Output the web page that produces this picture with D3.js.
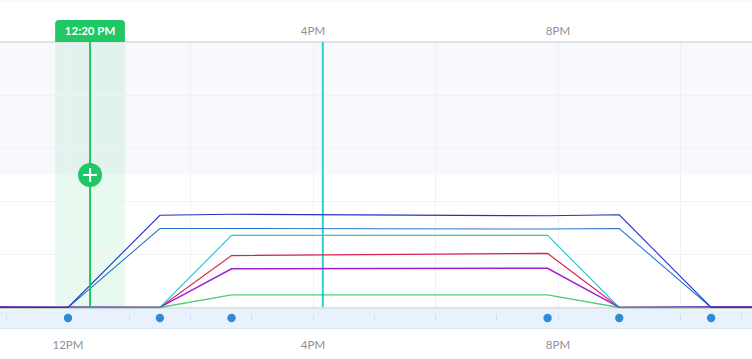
<!DOCTYPE html>
<html><head><meta charset="UTF-8"><style>
html, body { margin: 0; padding: 0; background: #fff; }
svg { display: block; }
text { font-family: Lato, "Open Sans", sans-serif; }
.tick-label { font-size: 11.5px; fill: #8d9198; text-anchor: middle; }
</style></head>
<body>
<svg width="752" height="359"></svg>
<script src="https://cdn.jsdelivr.net/npm/d3@7/dist/d3.min.js"></script>
<script>
// hours since midnight
var pointHours = [12, 13.5, 14.67, 19.83, 21, 22.5];
var lineHours = [10, 12, 13.5, 14.67, 19.83, 21, 22.5, 25];
var gridHours = [12, 14, 16, 18, 20, 22];
var minorHours = [11, 12, 13, 14, 15, 16, 17, 18, 19, 20, 21, 22, 23];
var topLabels = [[16, "4PM"], [20, "8PM"]];
var bottomLabels = [[12, "12PM"], [16, "4PM"], [20, "8PM"]];
var gridValues = [0, 100, 200, 300, 400, 500];

var purple = [1.5, 1, 0.4, 73, 74, 0.4, 1.5, 1.5];
var red = [0, 0, 0, 98, 102, 0, 0, 0];
var cyan = [0, 0, 0, 136, 136, 0, 0, 0];
var green = [0, 0, 0, 24, 24, 0, 0, 0];
var blue = [0, 0, 149, 149, 148, 149, 0, 0];
var navy = [0, 0, 174, 176, 173, 175, 0, 0];

var seriesList = [
  { values: red, color: "#d9204f", width: 1.2, opacity: 1 },
  { values: cyan, color: "#35c3d1", width: 1.2, opacity: 1 },
  { values: purple, color: "#9b1fd6", width: 1.5, opacity: 1 },
  { values: green, color: "#1fbf58", width: 1.3, opacity: 0.8 },
  { values: blue, color: "#2a78cf", width: 1.1, opacity: 1 },
  { values: navy, color: "#2233c4", width: 1.1, opacity: 1 }
];

var cursorHour = 12.36, bandHours = [11.79, 12.93], nowHour = 16.16, zoneTop = 500, zoneBottom = 250;

var svg = d3.select("svg");
var x = d3.scaleLinear().domain([12, 16]).range([68, 313]);
var y = d3.scaleLinear().domain([0, 500]).range([307.5, 42.5]);

// top rule and shaded zone
svg.append("rect").attr("x", 0).attr("y", 0.5).attr("width", 752).attr("height", 1.2).attr("fill", "#f4f4f6");
svg.append("rect").attr("x", 0).attr("width", 752)
  .attr("y", y(zoneTop)).attr("height", y(zoneBottom) - y(zoneTop)).attr("fill", "#f8f9fc");

// highlight band
svg.append("rect").attr("x", x(bandHours[0])).attr("width", x(bandHours[1]) - x(bandHours[0]))
  .attr("y", 42).attr("height", 265).attr("fill", "#1fc765").attr("opacity", 0.1);

// grid
svg.append("g").selectAll("line").data(gridValues.slice(1)).enter().append("line")
  .attr("x1", 0).attr("x2", 752).attr("y1", function(d) { return y(d); }).attr("y2", function(d) { return y(d); })
  .attr("stroke", "#f1f2f6").attr("stroke-width", 1);
svg.append("g").selectAll("line").data(gridHours).enter().append("line")
  .attr("x1", function(d) { return Math.floor(x(d)) + 0.5; }).attr("x2", function(d) { return Math.floor(x(d)) + 0.5; })
  .attr("y1", 42).attr("y2", 307).attr("stroke", "#eff1f5").attr("stroke-width", 1);

// header rule
svg.append("rect").attr("x", 0).attr("y", 41).attr("width", 752).attr("height", 2).attr("fill", "#dfe3ea");

// bottom strip
svg.append("rect").attr("x", 0).attr("y", 307).attr("width", 752).attr("height", 21).attr("fill", "#e8f1fc");
svg.append("rect").attr("x", 0).attr("y", 328).attr("width", 752).attr("height", 1).attr("fill", "#dbe7f5");
svg.append("rect").attr("x", 0).attr("y", 307).attr("width", 752).attr("height", 2).attr("fill", "#dbe2ea");
svg.append("g").selectAll("line").data(minorHours).enter().append("line")
  .attr("x1", function(d) { return Math.floor(x(d)) + 0.5; }).attr("x2", function(d) { return Math.floor(x(d)) + 0.5; })
  .attr("y1", 314).attr("y2", 321).attr("stroke", "#cfe2f3").attr("stroke-width", 1);

// now marker
svg.append("line").attr("x1", x(nowHour)).attr("x2", x(nowHour)).attr("y1", 42).attr("y2", 307)
  .attr("stroke", "#2dd0d0").attr("stroke-width", 2);

// series
var line = d3.line().x(function(d, i) { return x(lineHours[i]); }).y(function(d) { return y(d); });
seriesList.forEach(function(s) {
  svg.append("path")
    .attr("d", line(s.values))
    .attr("fill", "none").attr("stroke", s.color).attr("stroke-width", s.width).attr("stroke-opacity", s.opacity);
});

// cursor
svg.append("line").attr("x1", x(cursorHour)).attr("x2", x(cursorHour)).attr("y1", 42).attr("y2", 307)
  .attr("stroke", "#1fc765").attr("stroke-width", 2);
svg.append("circle").attr("cx", x(cursorHour)).attr("cy", y(250)).attr("r", 12).attr("fill", "#1fc765");
svg.append("path").attr("transform", "translate(" + x(cursorHour) + "," + y(250) + ")")
  .attr("d", "M-7,0H7M0,-7V7").attr("stroke", "#fff").attr("stroke-width", 2);

// cursor label
var bx0 = x(bandHours[0]), bx1 = x(bandHours[1]);
svg.append("path").attr("fill", "#1fc765")
  .attr("d", "M" + bx0 + ",42V24a4,4 0 0 1 4,-4H" + (bx1 - 4) + "a4,4 0 0 1 4,4V42Z");
svg.append("text").attr("x", (bx0 + bx1) / 2).attr("y", 35).attr("text-anchor", "middle")
  .attr("fill", "#fff").attr("font-size", 11.5).attr("font-weight", 700).text("12:20 PM");

// dots
svg.append("g").selectAll("circle").data(pointHours).enter().append("circle")
  .attr("cx", function(d) { return x(d); }).attr("cy", 318).attr("r", 4.2).attr("fill", "#2f8bd6");

// labels
svg.append("g").selectAll("text").data(topLabels).enter().append("text").attr("class", "tick-label")
  .attr("x", function(d) { return x(d[0]); }).attr("y", 35).text(function(d) { return d[1]; });
svg.append("g").selectAll("text").data(bottomLabels).enter().append("text").attr("class", "tick-label")
  .attr("x", function(d) { return x(d[0]); }).attr("y", 349).text(function(d) { return d[1]; });
</script>
</body></html>
